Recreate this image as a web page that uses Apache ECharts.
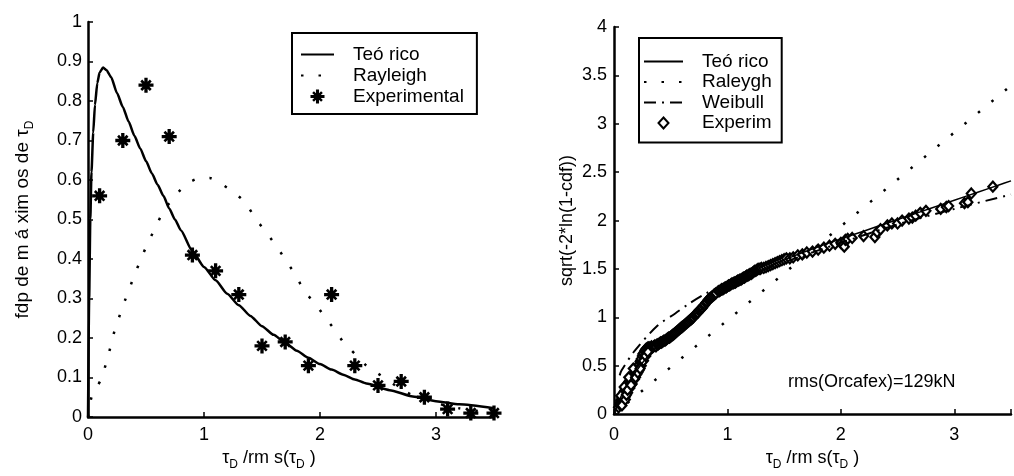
<!DOCTYPE html>
<html><head><meta charset="utf-8">
<script src="https://cdn.jsdelivr.net/npm/echarts@6/dist/echarts.min.js"></script>
<style>html,body{margin:0;padding:0;background:#fff}#c{width:1014px;height:476px}</style>
</head><body><div id="c"></div><script>
// ---------- data ----------
const leftYTicks = ['0','0.1','0.2','0.3','0.4','0.5','0.6','0.7','0.8','0.9','1'];
const xTicks = ['0','1','2','3'];
const rightYTicks = ['0','0.5','1','1.5','2','2.5','3','3.5','4'];

// Left panel: pdf of maxima
const leftTeorico = [[0,0],[0.01,0.3],[0.02,0.5],[0.03,0.62],[0.045,0.72],[0.06,0.79],[0.08,0.845],[0.1,0.872],[0.13,0.885],[0.16,0.878],[0.2,0.86],[0.25,0.82],[0.3,0.785],[0.35,0.748],[0.4,0.712],[0.45,0.68],[0.5,0.648],[0.55,0.617],[0.6,0.588],[0.65,0.56],[0.7,0.528],[0.75,0.5],[0.8,0.473],[0.9,0.42],[1.0,0.38],[1.1,0.346],[1.2,0.312],[1.3,0.283],[1.4,0.256],[1.5,0.23],[1.6,0.208],[1.7,0.188],[1.8,0.168],[1.9,0.15],[2.0,0.134],[2.1,0.12],[2.2,0.107],[2.3,0.095],[2.4,0.085],[2.6,0.068],[2.8,0.052],[3.0,0.04],[3.2,0.032],[3.5,0.022]];
const leftRayleigh = [[0,0],[0.03,0.05],[0.11,0.094],[0.17,0.15],[0.227,0.216],[0.3,0.28],[0.385,0.347],[0.47,0.41],[0.569,0.473],[0.65,0.52],[0.75,0.56],[0.85,0.59],[0.95,0.604],[1.05,0.605],[1.15,0.59],[1.25,0.57],[1.35,0.545],[1.45,0.5],[1.53,0.47],[1.63,0.43],[1.72,0.39],[1.8,0.355],[1.86,0.32],[1.95,0.29],[2.05,0.25],[2.14,0.216],[2.2,0.19],[2.3,0.16],[2.4,0.13],[2.5,0.11],[2.6,0.09],[2.7,0.07],[2.8,0.055],[2.9,0.045],[3.0,0.035],[3.2,0.022],[3.5,0.01]];
const leftExpX = [0.1,0.3,0.5,0.7,0.9,1.1,1.3,1.5,1.7,1.9,2.1,2.3,2.5,2.7,2.9,3.1,3.3,3.5];
const leftExpY = [0.56,0.70,0.84,0.71,0.41,0.37,0.31,0.18,0.19,0.13,0.31,0.13,0.08,0.09,0.05,0.02,0.01,0.01];

// Right panel: sqrt(-2 ln(1-cdf))
const rightTeorico = [[0,0],[0.05,0.15],[0.1,0.27],[0.2,0.45],[0.3,0.6],[0.4,0.72],[0.5,0.83],[0.6,0.93],[0.7,1.02],[0.8,1.11],[0.9,1.2],[1.0,1.28],[1.2,1.42],[1.4,1.54],[1.6,1.64],[1.8,1.73],[2.0,1.81],[2.2,1.89],[2.4,1.97],[2.6,2.05],[2.8,2.13],[3.0,2.21],[3.2,2.29],[3.4,2.37],[3.5,2.41]];
const rightRaleygh = [[0,0],[0.5,0.485],[1.0,0.97],[1.5,1.455],[2.0,1.94],[2.5,2.425],[3.0,2.91],[3.5,3.395]];
const rightWeibull = [[0.05,0.4],[0.066,0.45],[0.18,0.65],[0.38,0.91],[0.54,1.04],[0.66,1.14],[0.8,1.24],[1.0,1.35],[1.5,1.57],[2.0,1.77],[2.5,1.96],[3.0,2.12],[3.5,2.27]];
const rightExperim = [
[0.04,0.07],[0.05,0.10],[0.055,0.12],[0.06,0.14],[0.065,0.15],[0.07,0.17],[0.075,0.18],[0.08,0.20],[0.085,0.21],[0.09,0.23],[0.095,0.24],[0.10,0.26],[0.105,0.27],[0.11,0.29],[0.115,0.30],[0.12,0.31],[0.13,0.33],[0.135,0.34],[0.14,0.35],[0.15,0.37],[0.155,0.38],[0.16,0.39],[0.17,0.41],[0.175,0.42],[0.18,0.43],[0.19,0.45],[0.195,0.46],[0.20,0.47],[0.21,0.49],[0.215,0.50],[0.22,0.51],[0.23,0.54],[0.235,0.55],[0.24,0.57],[0.25,0.60],[0.255,0.62],[0.26,0.63],[0.27,0.65],[0.275,0.66],[0.28,0.67],[0.29,0.68],[0.30,0.69],[0.31,0.69],[0.32,0.68],[0.33,0.70],[0.34,0.69],[0.35,0.70],[0.36,0.71],[0.37,0.70],[0.38,0.72],[0.39,0.72],[0.40,0.73],
[0.08,0.13],[0.10,0.18],[0.12,0.22],[0.14,0.27],[0.16,0.31],[0.18,0.36],[0.20,0.41],[0.22,0.45],[0.24,0.50],[0.06,0.19],[0.09,0.28],[0.13,0.38],[0.17,0.47],
[0.07,0.09],[0.10,0.15],[0.11,0.20],[0.12,0.25],[0.15,0.30],[0.19,0.38],[0.21,0.43],[0.23,0.47],[0.26,0.55],[0.28,0.60],[0.30,0.64],
[0.41,0.74],[0.42,0.74],[0.43,0.75],[0.44,0.76],[0.45,0.76],[0.46,0.77],[0.47,0.78],[0.48,0.79],[0.49,0.79],[0.50,0.80],[0.51,0.81],[0.52,0.82],[0.53,0.83],[0.54,0.84],[0.55,0.85],[0.56,0.86],[0.57,0.87],[0.58,0.88],[0.59,0.89],[0.60,0.90],[0.61,0.91],[0.62,0.92],[0.63,0.93],[0.64,0.94],[0.65,0.95],[0.66,0.96],[0.67,0.97],[0.68,0.98],[0.69,0.99],[0.70,1.00],[0.71,1.02],[0.72,1.03],[0.73,1.04],[0.74,1.05],[0.75,1.07],[0.76,1.08],[0.77,1.09],[0.78,1.10],[0.79,1.12],[0.80,1.13],[0.81,1.15],[0.82,1.16],[0.83,1.18],[0.84,1.19],[0.85,1.20],[0.86,1.21],[0.87,1.22],[0.88,1.23],[0.89,1.24],[0.90,1.25],[0.92,1.27],[0.93,1.27],[0.94,1.28],[0.95,1.29],[0.96,1.29],[0.97,1.30],[0.98,1.31],[0.99,1.31],[1.00,1.32],[1.01,1.33],[1.02,1.33],[1.03,1.34],[1.04,1.35],[1.05,1.35],[1.06,1.36],[1.07,1.36],[1.08,1.37],[1.09,1.38],[1.10,1.38],[1.11,1.39],[1.12,1.39],[1.13,1.40],[1.14,1.41],[1.15,1.41],[1.16,1.42],[1.17,1.43],[1.18,1.43],[1.19,1.44],[1.20,1.45],[1.21,1.45],[1.22,1.46],[1.23,1.47],[1.24,1.48],[1.25,1.48],[1.26,1.49],[1.27,1.50],[1.28,1.50],[1.29,1.50],[1.30,1.51],
[1.32,1.51],[1.34,1.52],[1.36,1.53],[1.38,1.54],[1.40,1.55],[1.42,1.56],[1.44,1.57],[1.46,1.58],[1.48,1.59],[1.50,1.60],[1.52,1.61],[1.55,1.61],[1.58,1.62],[1.62,1.64],[1.66,1.65],[1.70,1.67],[1.75,1.68],[1.80,1.70],[1.85,1.72],[1.90,1.74],[1.95,1.76],[2.0,1.77],[2.02,1.76],[2.03,1.73],[2.04,1.80],[2.06,1.81],[2.1,1.82],[2.2,1.84],[2.3,1.83],[2.32,1.88],[2.35,1.91],[2.41,1.95],[2.45,1.97],[2.5,1.97],[2.54,2.0],[2.6,2.02],[2.63,2.03],[2.66,2.05],[2.7,2.08],[2.75,2.1],[2.88,2.12],[2.93,2.14],[2.95,2.15],[3.09,2.18],[3.12,2.19],[3.15,2.28],[3.34,2.35]];

// ---------- chart ----------
const FONT = 'Liberation Sans';
const STAR = 'path://M7.8,0 L12.2,0 L12.2,20 L7.8,20 Z M0,7.8 L20,7.8 L20,12.2 L0,12.2 Z M4.9,2.4 L17.6,15.1 L15.1,17.6 L2.4,4.9 Z M15.1,2.4 L17.6,4.9 L4.9,17.6 L2.4,15.1 Z';
const DIAMOND_ICON = 'path://M0,0 L0,0 M19.5,1.5 L24.5,7 L19.5,12.5 L14.5,7 Z M39,14 L39,14';

function axisCommon() {
  return {
    axisLine: {show: true, onZero: false, lineStyle: {color: '#000', width: 2.5}},
    axisTick: {show: true, inside: true, length: 5, lineStyle: {color: '#000', width: 1.5}},
    splitLine: {show: false}
  };
}
const nameRich = {
  t: {fontFamily: FONT, fontSize: 18, color: '#000'},
  s: {fontFamily: FONT, fontSize: 12, color: '#000', padding: [14, 0, 0, 0]}
};
const hideSym = {opacity: 0};

const option = {
  animation: false,
  backgroundColor: '#fff',
  grid: [
    {left: 88, right: 520, top: 22, bottom: 59, containLabel: false},
    {left: 614, right: -5, top: 27, bottom: 53, containLabel: false}
  ],
  xAxis: [
    Object.assign(axisCommon(), {
      gridIndex: 0, type: 'value', min: 0, max: 3.5, interval: 1,
      axisLabel: {color: '#000', fontFamily: FONT, fontSize: 18, margin: 9, formatter: v => xTicks[Math.round(v)] ?? ''},
      name: '{t|τ}{s|D}{t| /rm s(τ}{s|D}{t| )}', nameLocation: 'middle', nameGap: 26,
      nameTextStyle: {rich: nameRich, padding: [0, 44, 0, 0]}
    }),
    Object.assign(axisCommon(), {
      gridIndex: 1, type: 'value', min: 0, max: 3.5, interval: 1,
      axisLabel: {color: '#000', fontFamily: FONT, fontSize: 18, margin: 12, formatter: v => xTicks[Math.round(v)] ?? ''},
      name: '{t|τ}{s|D}{t| /rm s(τ}{s|D}{t| )}', nameLocation: 'middle', nameGap: 28,
      nameTextStyle: {rich: nameRich}
    })
  ],
  yAxis: [
    Object.assign(axisCommon(), {
      gridIndex: 0, type: 'value', min: 0, max: 1, interval: 0.1,
      axisLabel: {color: '#000', fontFamily: FONT, fontSize: 18, margin: 6, formatter: v => leftYTicks[Math.round(v * 10)]},
      name: '{t|fdp de m á xim os de τ}{s|D}', nameLocation: 'middle', nameGap: 52, nameRotate: 90,
      nameTextStyle: {rich: {t: {fontFamily: FONT, fontSize: 19, color: '#000'}, s: {fontFamily: FONT, fontSize: 12, color: '#000', padding: [14, 0, 0, 0]}}}
    }),
    Object.assign(axisCommon(), {
      gridIndex: 1, type: 'value', min: 0, max: 4, interval: 0.5,
      axisLabel: {color: '#000', fontFamily: FONT, fontSize: 18, margin: 7, formatter: v => rightYTicks[Math.round(v * 2)]},
      name: 'sqrt(-2*ln(1-cdf))', nameLocation: 'middle', nameGap: 38, nameRotate: 90,
      nameTextStyle: {fontFamily: FONT, fontSize: 18, color: '#000'}
    })
  ],
  legend: [
    {
      data: [{name: 'Teó rico', itemStyle: hideSym}, {name: 'Rayleigh', itemStyle: hideSym}, {name: 'Experimental'}],
      orient: 'vertical', left: 292, top: 33, itemWidth: 33, itemHeight: 14, itemGap: 2,
      padding: [12, 13, 8, 8], borderColor: '#000', borderWidth: 2, backgroundColor: '#fff',
      textStyle: {fontFamily: FONT, fontSize: 19, color: '#000', lineHeight: 19, padding: [0, 0, 0, 14]},
      formatter: n => n.trim()
    },
    {
      data: [{name: 'Teó rico ', itemStyle: hideSym}, {name: 'Raleygh', itemStyle: hideSym}, {name: 'Weibull', itemStyle: hideSym}, {name: 'Experim', icon: DIAMOND_ICON}],
      orient: 'vertical', left: 639, top: 38, itemWidth: 39, itemHeight: 14, itemGap: 1.5,
      padding: [14, 10, 10, 4], borderColor: '#000', borderWidth: 2, backgroundColor: '#fff',
      textStyle: {fontFamily: FONT, fontSize: 19, color: '#000', lineHeight: 19, padding: [0, 0, 0, 14]},
      formatter: n => n.trim()
    }
  ],
  graphic: [
    {type: 'text', left: 788, top: 373, style: {text: 'rms(Orcafex)=129kN', font: '18px "Liberation Sans"', fill: '#000'}}
  ],
  series: [
    {name: 'Teó rico', type: 'line', xAxisIndex: 0, yAxisIndex: 0, data: leftTeorico, symbol: 'none', smooth: 0.2, smoothMonotone: 'x',
      itemStyle: {color: '#000'}, lineStyle: {color: '#000', width: 2.5}},
    {name: 'Rayleigh', type: 'line', xAxisIndex: 0, yAxisIndex: 0, data: leftRayleigh, symbol: 'none', smooth: 0.2,
      itemStyle: {color: '#000'}, lineStyle: {color: '#000', width: 2.5, type: [2.5, 15]}},
    {name: 'Experimental', type: 'scatter', xAxisIndex: 0, yAxisIndex: 0,
      data: leftExpX.map((x, i) => [x, leftExpY[i]]), symbol: STAR, symbolSize: 15,
      itemStyle: {color: '#000', opacity: 1}},
    {name: 'Teó rico ', type: 'line', xAxisIndex: 1, yAxisIndex: 1, data: rightTeorico, symbol: 'none', smooth: 0.3,
      itemStyle: {color: '#000'}, lineStyle: {color: '#000', width: 1.5}},
    {name: 'Raleygh', type: 'line', xAxisIndex: 1, yAxisIndex: 1, data: rightRaleygh, symbol: 'none',
      itemStyle: {color: '#000'}, lineStyle: {color: '#000', width: 2.5, type: [2.5, 15]}},
    {name: 'Weibull', type: 'line', xAxisIndex: 1, yAxisIndex: 1, data: rightWeibull, symbol: 'none', smooth: 0.3,
      itemStyle: {color: '#000'}, lineStyle: {color: '#000', width: 2, type: [12, 6, 2, 6]}},
    {name: 'Experim', type: 'scatter', xAxisIndex: 1, yAxisIndex: 1, data: rightExperim, symbol: 'diamond', symbolSize: [9, 10],
      itemStyle: {color: '#fff', borderColor: '#000', borderWidth: 2.2, opacity: 1}}
  ]
};
const chart = echarts.init(document.getElementById('c'), null, {renderer: 'canvas'});
chart.setOption(option);
</script></body></html>
